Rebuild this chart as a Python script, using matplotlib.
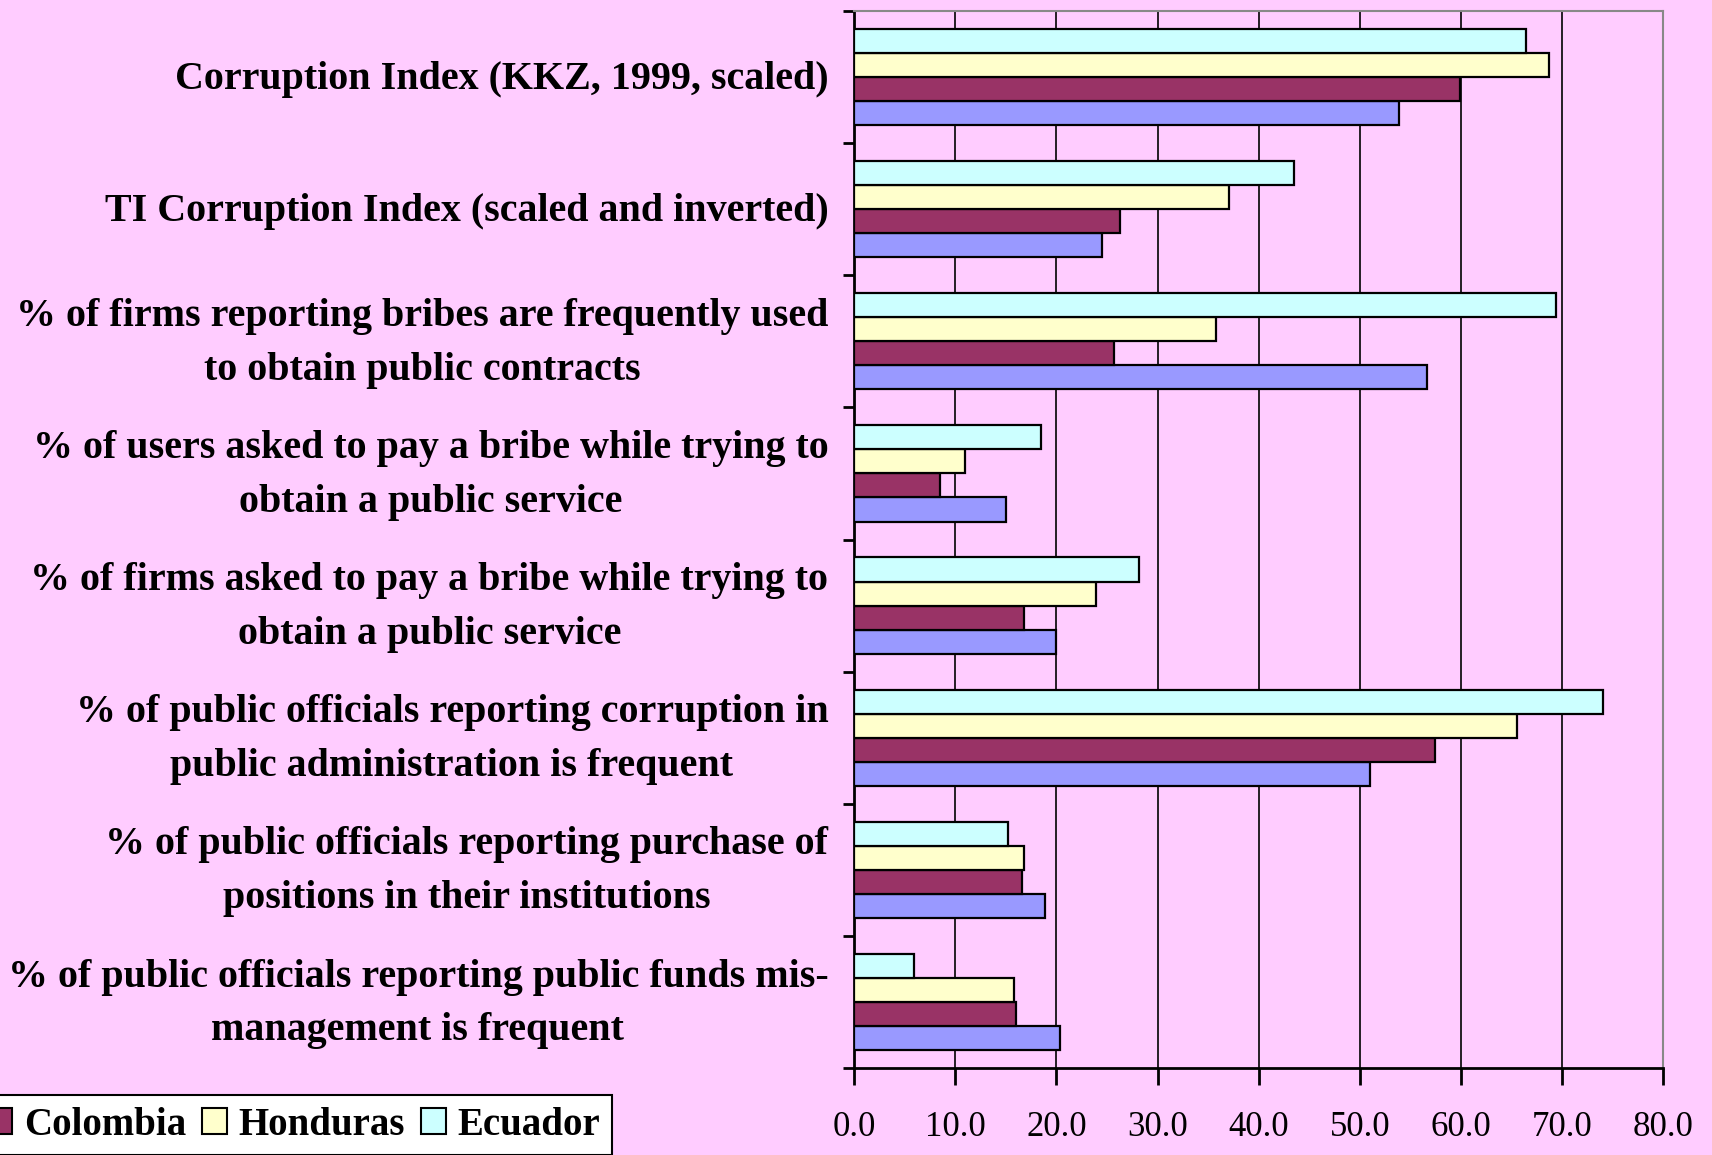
import numpy as np
import matplotlib.pyplot as plt
from matplotlib.patches import Patch
from matplotlib.transforms import blended_transform_factory, offset_copy

plt.rcParams['font.family'] = ['Liberation Serif', 'DejaVu Serif']

categories = [
    "Corruption Index (KKZ, 1999, scaled)",
    "TI Corruption Index (scaled and inverted)",
    "% of firms reporting bribes are frequently used\nto obtain public contracts",
    "% of users asked to pay a bribe while trying to\nobtain a public service",
    "% of firms asked to pay a bribe while trying to\nobtain a public service",
    "% of public officials reporting corruption in\npublic administration is frequent",
    "% of public officials reporting purchase of\npositions in their institutions",
    "% of public officials reporting public funds mis-\nmanagement is frequent",
]

# series (legend order); first series label is cut off in the reference
series_names = ["Bolivia", "Colombia", "Honduras", "Ecuador"]
bolivia = [53.9, 24.5, 56.7, 15.0, 20.0, 51.0, 18.9, 20.3]
colombia = [59.9, 26.3, 25.7, 8.5, 16.8, 57.4, 16.6, 16.0]
honduras = [68.7, 37.1, 35.8, 11.0, 23.9, 65.6, 16.8, 15.8]
ecuador = [66.4, 43.5, 69.4, 18.5, 28.2, 74.1, 15.2, 5.9]

colors = ["#9999FF", "#993366", "#FFFFCC", "#CCFFFF"]
bg = "#FFCCFF"

fig = plt.figure(figsize=(17.12, 11.55), dpi=100, facecolor=bg)
ax = fig.add_axes([0.499, 0.0753, 0.4724, 0.9152])
ax.set_facecolor(bg)

y = np.arange(len(categories))
h = 0.182
offsets = [1.5 * h, 0.5 * h, -0.5 * h, -1.5 * h]
for vals, off, c in zip([bolivia, colombia, honduras, ecuador], offsets, colors):
    ax.barh(y + off, vals, height=h, color=c, edgecolor="black", linewidth=1.6, zorder=3)

ax.set_ylim(len(categories) - 0.5, -0.5)
ax.set_xlim(0, 80)

ax.set_xticks(np.arange(0, 81, 10))
ax.set_xticklabels([f"{v:.1f}" for v in np.arange(0, 81, 10)], fontsize=25)
ax.xaxis.grid(True, color="black", linewidth=1.2, zorder=0)

# tick marks at category boundaries, labels drawn as text at centres
ax.set_yticks(np.arange(-0.5, len(categories), 1))
ax.set_yticklabels([])
ax.tick_params(axis="y", which="major", length=8, width=2, direction="out")
ax.tick_params(axis="x", length=12, width=2, direction="out", pad=19)

trans = offset_copy(blended_transform_factory(ax.transAxes, ax.transData),
                    fig=fig, x=-26, y=-2, units="dots")
for yi, lab in zip(y, categories):
    ax.text(0, yi, lab, transform=trans, ha="right", va="center",
            multialignment="center", fontsize=28.8, fontweight="bold",
            linespacing=1.6)

for s in ["left", "bottom"]:
    ax.spines[s].set_color("black")
    ax.spines[s].set_linewidth(2)
for s in ["top", "right"]:
    ax.spines[s].set_color("#888888")
    ax.spines[s].set_linewidth(1.5)

handles = [Patch(facecolor=c, edgecolor="black", linewidth=1.5) for c in colors]
leg = fig.legend(handles, series_names, loc="upper right", ncol=4,
                 bbox_to_anchor=(0.3575, 0.052), frameon=True, fancybox=False,
                 edgecolor="black", facecolor="white", framealpha=1,
                 prop={"size": 28, "weight": "bold"},
                 handlelength=0.65, handleheight=0.65, handletextpad=0.3,
                 columnspacing=0.4, borderpad=0.3, borderaxespad=0)
leg.get_frame().set_linewidth(1.5)

fig.savefig("out.png", dpi=100, facecolor=bg)
